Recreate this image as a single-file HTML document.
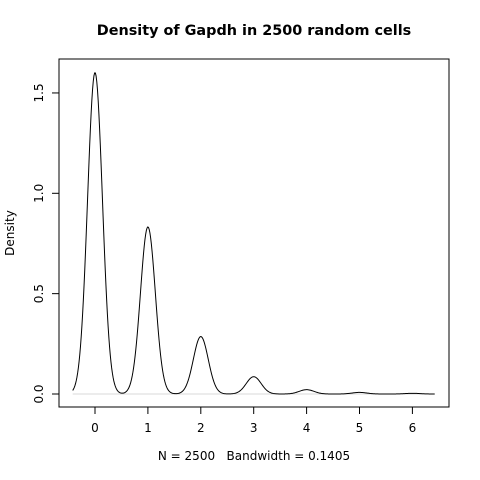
<!DOCTYPE html>
<html><head><meta charset="utf-8"><style>
body{margin:0;background:#fff}
svg{display:block;font-family:"DejaVu Sans","Liberation Sans",sans-serif}
</style></head><body>
<svg width="480" height="480" viewBox="0 0 480 480" id="chart">
<rect x="0" y="0" width="480" height="480" fill="#fff"/>
<text x="254" y="35" text-anchor="middle" font-weight="bold" font-size="14.4">Density of Gapdh in 2500 random cells</text>
<rect x="59" y="59" width="390" height="348" fill="none" stroke="#000" stroke-width="1"/>
<text x="254" y="460" text-anchor="middle" font-size="12" style="white-space:pre">N = 2500   Bandwidth = 0.1405</text>
<text transform="translate(14,233) rotate(-90)" text-anchor="middle" font-size="12">Density</text>
<g id="axes"></g>
<line id="zero" stroke="#d8d8d8" stroke-width="1"/>
<path id="curve" fill="none" stroke="#000" stroke-width="1"/>
</svg>
<script>
const values = [0, 1, 2, 3, 4, 5, 6];
const counts = [1410, 733, 252, 76, 19, 7, 3];
const bandwidth = 0.1405;
const xTicks = [0, 1, 2, 3, 4, 5, 6];
const yTicks = [0, 0.5, 1, 1.5];
const yTickLabels = ["0.0", "0.5", "1.0", "1.5"];

const ns = "http://www.w3.org/2000/svg";
const xs = v => 95 + v * 52.9;
const ys = v => 394 - v * 200.7;
const total = counts.reduce((a, b) => a + b, 0);
function dens(x) {
  let s = 0;
  for (let i = 0; i < values.length; i++) {
    const z = (x - values[i]) / bandwidth;
    s += counts[i] * Math.exp(-0.5 * z * z);
  }
  return s / (total * bandwidth * Math.sqrt(2 * Math.PI));
}
const lo = Math.min(...values) - 3 * bandwidth, hi = Math.max(...values) + 3 * bandwidth;
let d = "";
const n = 512;
for (let i = 0; i < n; i++) {
  const x = lo + (hi - lo) * i / (n - 1);
  d += (i ? "L" : "M") + xs(x).toFixed(2) + "," + ys(dens(x)).toFixed(2);
}
document.getElementById("curve").setAttribute("d", d);
const zl = document.getElementById("zero");
zl.setAttribute("x1", xs(lo)); zl.setAttribute("x2", xs(hi));
zl.setAttribute("y1", ys(0)); zl.setAttribute("y2", ys(0));

const g = document.getElementById("axes");
function mk(tag, attrs, text) {
  const e = document.createElementNS(ns, tag);
  for (const k in attrs) e.setAttribute(k, attrs[k]);
  if (text !== undefined) e.textContent = text;
  g.appendChild(e);
  return e;
}
let e = mk("line", {x1: xs(xTicks[0]), x2: xs(xTicks[xTicks.length - 1]), y1: 407, y2: 407, stroke: "#000"});


xTicks.forEach(t => {
  let l = mk("line", {x1: xs(t), x2: xs(t), y1: 407, y2: 414, stroke: "#000"});
  
  
  let tx = mk("text", {x: xs(t), y: 432, "text-anchor": "middle", "font-size": "12"}, String(t));
  
  
});
e = mk("line", {x1: 59, x2: 59, y1: ys(yTicks[0]), y2: ys(yTicks[yTicks.length - 1]), stroke: "#000"});


yTicks.forEach((t, i) => {
  let l = mk("line", {x1: 52, x2: 59, y1: ys(t), y2: ys(t), stroke: "#000"});
  
  
  let tx = mk("text", {transform: "translate(43," + ys(t) + ") rotate(-90)", "text-anchor": "middle", "font-size": "12"}, yTickLabels[i]);
  
  
});
</script>
</body></html>
